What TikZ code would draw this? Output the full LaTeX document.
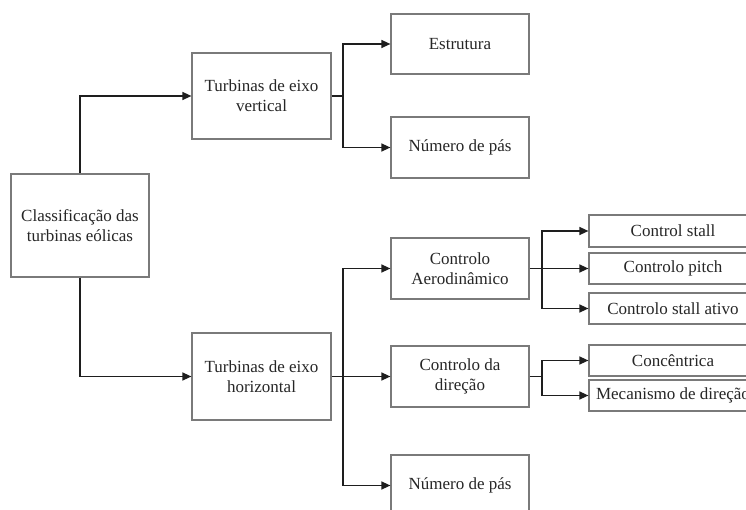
\documentclass[tikz,border=0pt]{standalone}
\usepackage{fontspec}
\setmainfont{Liberation Serif}
\usetikzlibrary{arrows.meta}
\definecolor{boxgray}{HTML}{7A7A7A}
\definecolor{linecol}{HTML}{1E1E1E}
\definecolor{txtcol}{HTML}{262626}
\tikzset{
  box/.style={draw=boxgray, line width=1.2pt, rectangle, inner sep=0pt, align=center,
    text=txtcol, font=\fontsize{17}{20}\selectfont},
  midbox/.style={box, minimum width=138pt, minimum height=61pt},
  smallbox/.style={box, minimum width=168pt, minimum height=31pt},
  conn/.style={draw=linecol, line width=1.3pt},
  arr/.style={conn, -{Triangle[length=9pt,width=8pt]}}
}
\begin{document}
\begin{tikzpicture}[x=1pt,y=-1pt]
\clip (0,0) rectangle (746,510);
\fill[white] (0,0) rectangle (746,510);
% main nodes
\node[box, minimum width=138pt, minimum height=103pt] (cls) at (80,225.5) {Classificação das\\turbinas eólicas};
\node[box, minimum width=139pt, minimum height=86pt] (tv) at (261.5,96) {Turbinas de eixo\\vertical};
\node[box, minimum width=139pt, minimum height=87pt] (th) at (261.5,376.5) {Turbinas de eixo\\horizontal};
\node[midbox, minimum height=60pt] (est) at (460,44) {Estrutura};
\node[midbox] (np1) at (460,147.5) {Número de pás};
\node[midbox] (ca) at (460,268.5) {Controlo\\Aerodinâmico};
\node[midbox] (cd) at (460,376.5) {Controlo da\\direção};
\node[midbox] (np2) at (460,485.5) {Número de pás};
\node[smallbox, minimum height=32pt] (cs) at (673,231) {Control stall};
\node[smallbox] (cp) at (673,268.5) {Controlo pitch};
\node[smallbox] (csa) at (673,308.5) {Controlo stall ativo};
\node[smallbox] (con) at (673,360.5) {Concêntrica};
\node[smallbox] (mec) at (673,395.5) {Mecanismo de direção};
% junctions
\coordinate (j1) at (343,96);
\coordinate (j2) at (343,376.5);
\coordinate (j3) at (542,268.5);
\coordinate (j4) at (542,376.5);
% connectors
\draw[arr] (cls.north) |- (tv.west);
\draw[arr] (cls.south) |- (th.west);
\draw[conn] (tv.east) -- (j1);
\draw[arr] (j1) |- (est.west);
\draw[arr] (j1) |- (np1.west);
\draw[conn] (th.east) -- (j2);
\draw[arr] (j2) |- (ca.west);
\draw[arr] (j2) -- (cd.west);
\draw[arr] (j2) |- (np2.west);
\draw[conn] (ca.east) -- (j3);
\draw[arr] (j3) |- (cs.west);
\draw[arr] (j3) -- (cp.west);
\draw[arr] (j3) |- (csa.west);
\draw[conn] (cd.east) -- (j4);
\draw[arr] (j4) |- (con.west);
\draw[arr] (j4) |- (mec.west);
\end{tikzpicture}
\end{document}
